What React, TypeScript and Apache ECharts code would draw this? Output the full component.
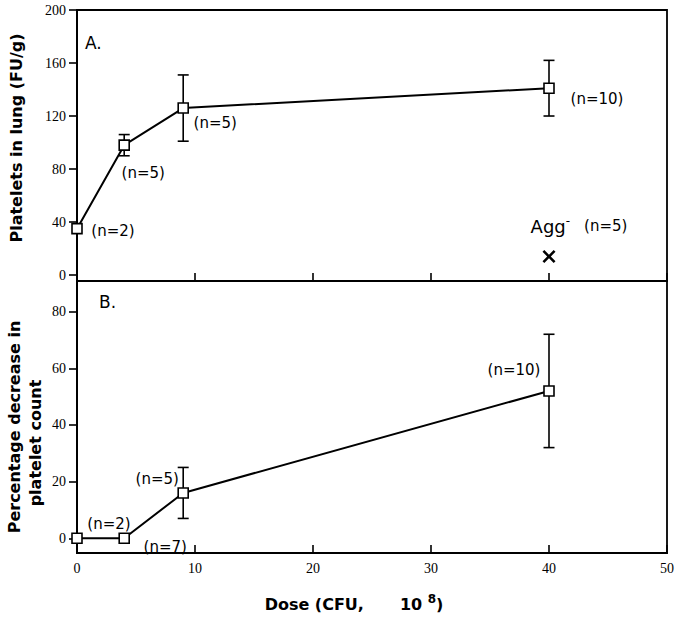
import React, { useEffect, useRef } from 'react';
import * as echarts from 'echarts';

// ---- data ----
const doses = [0, 4, 9, 40];
const lungPlatelets = [35, 98, 126, 141];
const lungSD = [0, 8, 25, 21];
const lungN = [2, 5, 5, 10];

const percentDecrease = [0, 0, 16, 52];
const decreaseSD = [0, 0, 9, 20];
const decreaseN = [2, 7, 5, 10];

const aggDose = [40];
const aggValue = [14];
const aggN = [5];

const xTicks = [0, 10, 20, 30, 40, 50];
const lungTicks = [0, 40, 80, 120, 160, 200];
const decreaseTicks = [0, 20, 40, 60, 80];

// ---- label placement (style only) ----
const topLabelOffsets = [[36, 2], [19, 28], [32, 15], [48, 11]];
const bottomLabelOffsets = [[32, -14], [41, 9], [-26, -14], [-35, -21]];

const SERIF = '"Liberation Serif", "Times New Roman", serif';
const SANS = '"DejaVu Sans", sans-serif';

const crossPath =
  'path://M1.4,0 L5,3.6 L8.6,0 L10,1.4 L6.4,5 L10,8.6 L8.6,10 L5,6.4 L1.4,10 L0,8.6 L3.6,5 L0,1.4 Z';

function errorBarData(means: number[], sds: number[]) {
  const out: number[][] = [];
  doses.forEach((d, i) => {
    if (sds[i] > 0) out.push([d, means[i] - sds[i], means[i] + sds[i]]);
  });
  return out;
}

const renderErrorBar = (params: any, api: any) => {
  const x = api.value(0);
  const lo = api.coord([x, api.value(1)]);
  const hi = api.coord([x, api.value(2)]);
  const w = 5.5;
  const style = { stroke: '#000', lineWidth: 1.6 };
  return {
    type: 'group',
    children: [
      { type: 'line', shape: { x1: hi[0], y1: hi[1], x2: lo[0], y2: lo[1] }, style },
      { type: 'line', shape: { x1: hi[0] - w, y1: hi[1], x2: hi[0] + w, y2: hi[1] }, style },
      { type: 'line', shape: { x1: lo[0] - w, y1: lo[1], x2: lo[0] + w, y2: lo[1] }, style },
    ],
  };
};

const xAxisBase = (gridIndex: number, showLabels: boolean) => ({
  type: 'value',
  gridIndex,
  min: xTicks[0],
  max: xTicks[xTicks.length - 1],
  interval: xTicks[1] - xTicks[0],
  axisLine: { show: true, onZero: false, lineStyle: { color: '#000', width: 2 } },
  axisTick: { show: true, inside: true, length: 8, lineStyle: { color: '#000', width: 1.6 } },
  axisLabel: {
    show: showLabels,
    color: '#000',
    fontFamily: SERIF,
    fontSize: 14,
    margin: 8,
  },
  splitLine: { show: false },
});

const yAxisBase = (gridIndex: number, min: number, max: number, ticks: number[]) => ({
  type: 'value',
  gridIndex,
  min,
  max,
  axisLine: { show: true, onZero: false, lineStyle: { color: '#000', width: 2 } },
  axisTick: {
    show: true,
    inside: false,
    length: 8,
    customValues: ticks,
    lineStyle: { color: '#000', width: 1.6 },
  },
  axisLabel: {
    show: true,
    customValues: ticks,
    color: '#000',
    fontFamily: SERIF,
    fontSize: 14,
    margin: 11,
  },
  splitLine: { show: false },
});

const nLabel = (counts: number[]) => ({
  show: true,
  position: 'inside',
  color: '#000',
  fontFamily: SANS,
  fontSize: 15,
  formatter: (p: any) => `(n=${counts[p.dataIndex]})`,
});

export default function App() {
  const ref = useRef<HTMLDivElement>(null);

  useEffect(() => {
    document.body.style.margin = '0';
    if (!ref.current) return;
    const chart = echarts.init(ref.current, undefined, { renderer: 'svg' });

    const option: any = {
      animation: false,
      backgroundColor: '#fff',
      grid: [
        { left: 77, top: 10, width: 590, height: 271, show: true, borderColor: '#000', borderWidth: 1.8, backgroundColor: 'transparent', containLabel: false, outerBoundsMode: 'none' },
        { left: 77, top: 281, width: 590, height: 272, show: true, borderColor: '#000', borderWidth: 1.8, backgroundColor: 'transparent', containLabel: false, outerBoundsMode: 'none' },
      ],
      xAxis: [xAxisBase(0, false), xAxisBase(1, true)],
      yAxis: [
        yAxisBase(0, -4.5, 200, lungTicks),
        yAxisBase(1, -5.2, 90.8, decreaseTicks),
      ],
      series: [
        {
          type: 'custom',
          xAxisIndex: 0,
          yAxisIndex: 0,
          z: 1,
          renderItem: renderErrorBar,
          data: errorBarData(lungPlatelets, lungSD),
        },
        {
          type: 'line',
          xAxisIndex: 0,
          yAxisIndex: 0,
          z: 3,
          symbol: 'rect',
          symbolSize: 10,
          showAllSymbol: true,
          lineStyle: { color: '#000', width: 2 },
          itemStyle: { color: '#fff', borderColor: '#000', borderWidth: 1.6 },
          label: nLabel(lungN),
          data: doses.map((d, i) => ({
            value: [d, lungPlatelets[i]],
            label: { offset: topLabelOffsets[i] },
          })),
        },
        {
          type: 'scatter',
          xAxisIndex: 0,
          yAxisIndex: 0,
          z: 3,
          symbol: crossPath,
          symbolSize: 13,
          itemStyle: { color: '#000', opacity: 1 },
          label: {
            show: true,
            position: 'inside',
            offset: [30, -30],
            color: '#000',
            opacity: 1,
            formatter: (p: any) => `{a|Agg}{s|-}{g| }{n|(n=${aggN[p.dataIndex]})}`,
            rich: {
              a: { fontFamily: SANS, fontSize: 18, color: '#000' },
              s: { fontFamily: SANS, fontSize: 12, color: '#000', padding: [0, 0, 10, 0] },
              g: { width: 14 },
              n: { fontFamily: SANS, fontSize: 15, color: '#000' },
            },
          },
          data: aggDose.map((d, i) => [d, aggValue[i]]),
        },
        {
          type: 'custom',
          xAxisIndex: 1,
          yAxisIndex: 1,
          z: 1,
          renderItem: renderErrorBar,
          data: errorBarData(percentDecrease, decreaseSD),
        },
        {
          type: 'line',
          xAxisIndex: 1,
          yAxisIndex: 1,
          z: 3,
          symbol: 'rect',
          symbolSize: 10,
          showAllSymbol: true,
          lineStyle: { color: '#000', width: 2 },
          itemStyle: { color: '#fff', borderColor: '#000', borderWidth: 1.6 },
          label: nLabel(decreaseN),
          data: doses.map((d, i) => ({
            value: [d, percentDecrease[i]],
            label: { offset: bottomLabelOffsets[i] },
          })),
        },
      ],
      graphic: [
        {
          type: 'text',
          x: 16,
          y: 138,
          rotation: Math.PI / 2,
          style: {
            text: 'Platelets in lung (FU/g)',
            fontFamily: SANS,
            fontWeight: 'bold',
            fontSize: 16,
            fill: '#000',
            align: 'center',
            verticalAlign: 'middle',
          },
        },
        {
          type: 'text',
          x: 14,
          y: 427,
          rotation: Math.PI / 2,
          style: {
            text: 'Percentage decrease in',
            fontFamily: SANS,
            fontWeight: 'bold',
            fontSize: 16,
            fill: '#000',
            align: 'center',
            verticalAlign: 'middle',
          },
        },
        {
          type: 'text',
          x: 35,
          y: 443,
          rotation: Math.PI / 2,
          style: {
            text: 'platelet count',
            fontFamily: SANS,
            fontWeight: 'bold',
            fontSize: 16,
            fill: '#000',
            align: 'center',
            verticalAlign: 'middle',
          },
        },
        {
          type: 'text',
          x: 85,
          y: 43,
          style: { text: 'A.', fontFamily: SANS, fontSize: 17, fill: '#000', align: 'left', verticalAlign: 'middle' },
        },
        {
          type: 'text',
          x: 99,
          y: 302,
          style: { text: 'B.', fontFamily: SANS, fontSize: 17, fill: '#000', align: 'left', verticalAlign: 'middle' },
        },
        {
          type: 'text',
          x: 354,
          y: 604,
          style: {
            text: '{b|Dose (CFU,}{g| }{b|10 }{s|8}{b|)}',
            align: 'center',
            verticalAlign: 'middle',
            rich: {
              b: { fontFamily: SANS, fontWeight: 'bold', fontSize: 16, fill: '#000', color: '#000' },
              g: { width: 36 },
              s: { fontFamily: SANS, fontWeight: 'bold', fontSize: 12, fill: '#000', color: '#000', padding: [0, 0, 10, 0] },
            },
          },
        },
      ],
    };

    chart.setOption(option);
    return () => chart.dispose();
  }, []);

  return <div ref={ref} style={{ width: 676, height: 618 }} />;
}
